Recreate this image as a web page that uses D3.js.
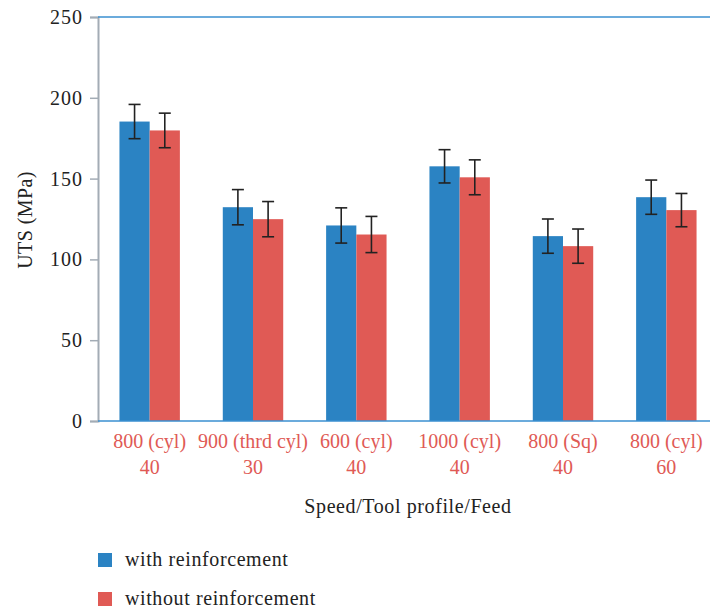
<!DOCTYPE html>
<html>
<head>
<meta charset="utf-8">
<script src="https://cdn.jsdelivr.net/npm/d3@7"></script>
<style>
  html, body { margin: 0; padding: 0; background: #fff; }
</style>
</head>
<body>
<svg id="chart" width="710" height="610"></svg>
<script>
// Ultimate tensile strength per process setting
const categories = [
  ["800 (cyl)", "40"],
  ["900 (thrd cyl)", "30"],
  ["600 (cyl)", "40"],
  ["1000 (cyl)", "40"],
  ["800 (Sq)", "40"],
  ["800 (cyl)", "60"]
];
const seriesNames = ["with reinforcement", "without reinforcement"];
const withReinf = [185.3, 132.3, 121.0, 157.6, 114.4, 138.5];
const withoutReinf = [179.8, 124.9, 115.4, 150.8, 108.2, 130.5];
const withErr = [10.6, 10.9, 10.9, 10.3, 10.6, 10.6];
const withoutErr = [10.7, 10.9, 11.2, 10.8, 10.6, 10.3];
const yTicks = [0, 50, 100, 150, 200, 250];

const FONT = "Liberation Serif";
const colors = ["#2b83c3", "#e05a55"];
const svg = d3.select("#chart").style("font-family", FONT);

const x0 = d3.scaleBand().domain(d3.range(categories.length)).range([98, 718]).paddingInner(0).paddingOuter(0);
const x1 = d3.scaleBand().domain([0, 1]).range([0, x0.bandwidth()]).paddingInner(0).paddingOuter(0.71);
const y = d3.scaleLinear().domain([0, 250]).range([421, 17]);

// Y axis
const yAxis = svg.append("g").attr("transform", "translate(98,0)")
  .call(d3.axisLeft(y).tickValues(yTicks).tickSize(8).tickPadding(7));
yAxis.attr("font-family", null).attr("font-size", null);
yAxis.select(".domain").attr("stroke", "#a3acb5").attr("stroke-width", 2);
yAxis.selectAll(".tick line").attr("stroke", "#a3acb5").attr("stroke-width", 1.5);
yAxis.selectAll(".tick text").attr("fill", "#222")
  .style("font-family", FONT).style("font-size", "20px").style("letter-spacing", "1px");

// top frame line
svg.append("line").attr("x1", 98).attr("x2", 710).attr("y1", y(250)).attr("y2", y(250))
  .attr("stroke", "#3a8fd0").attr("stroke-width", 1.5);

const data = categories.map((c, i) => ({
  i,
  vals: [
    { s: 0, v: withReinf[i], e: withErr[i] },
    { s: 1, v: withoutReinf[i], e: withoutErr[i] }
  ]
}));

const groups = svg.append("g").selectAll("g").data(data).join("g")
  .attr("transform", d => `translate(${x0(d.i)},0)`);

groups.selectAll("rect").data(d => d.vals).join("rect")
  .attr("x", d => x1(d.s))
  .attr("width", x1.bandwidth())
  .attr("y", d => y(d.v))
  .attr("height", d => y(0) - y(d.v))
  .attr("fill", d => colors[d.s]);

// error bars
const eb = groups.selectAll("g.err").data(d => d.vals).join("g").attr("class", "err")
  .attr("stroke", "#222").attr("stroke-width", 1.6);
const cx = d => x1(d.s) + x1.bandwidth() / 2;
eb.append("line")
  .attr("x1", cx).attr("x2", cx)
  .attr("y1", d => y(d.v + d.e)).attr("y2", d => y(d.v - d.e));
eb.append("line")
  .attr("x1", d => cx(d) - 6).attr("x2", d => cx(d) + 6)
  .attr("y1", d => y(d.v + d.e)).attr("y2", d => y(d.v + d.e));
eb.append("line")
  .attr("x1", d => cx(d) - 6).attr("x2", d => cx(d) + 6)
  .attr("y1", d => y(d.v - d.e)).attr("y2", d => y(d.v - d.e));

// X axis baseline
svg.append("line").attr("x1", 98).attr("x2", 710).attr("y1", y(0)).attr("y2", y(0))
  .attr("stroke", "#3a8fd0").attr("stroke-width", 1.5);

// category labels
const labelX = (d, i) => x0(i) + x0.bandwidth() / 2;
const catLabels = svg.append("g").selectAll("text").data(categories).join("text")
  .attr("x", labelX)
  .attr("y", 448)
  .attr("text-anchor", "middle")
  .attr("fill", "#e05a55")
  .style("font-family", FONT)
  .style("font-size", "20px");
catLabels.append("tspan").attr("x", labelX).attr("dy", 0).text(d => d[0]);
catLabels.append("tspan").attr("x", labelX).attr("dy", 26).text(d => d[1]);

// axis titles
svg.append("text").attr("x", 408).attr("y", 513).attr("text-anchor", "middle")
  .attr("fill", "#222").style("font-family", FONT).style("font-size", "20px")
  .style("letter-spacing", "0.6px").text("Speed/Tool profile/Feed");
svg.append("text").attr("transform", "translate(32,220) rotate(-90)").attr("text-anchor", "middle")
  .attr("fill", "#222").style("font-family", FONT).style("font-size", "20px")
  .style("letter-spacing", "0.4px").text("UTS (MPa)");

// legend
const legend = svg.append("g").selectAll("g").data(seriesNames).join("g")
  .attr("transform", (d, i) => `translate(98,${553 + i * 39})`);
legend.append("rect").attr("width", 14).attr("height", 14).attr("fill", (d, i) => colors[i]);
legend.append("text").attr("x", 27).attr("y", 12.5).attr("fill", "#222")
  .style("font-family", FONT).style("font-size", "20px").style("letter-spacing", "0.6px").text(d => d);
</script>
</body>
</html>
